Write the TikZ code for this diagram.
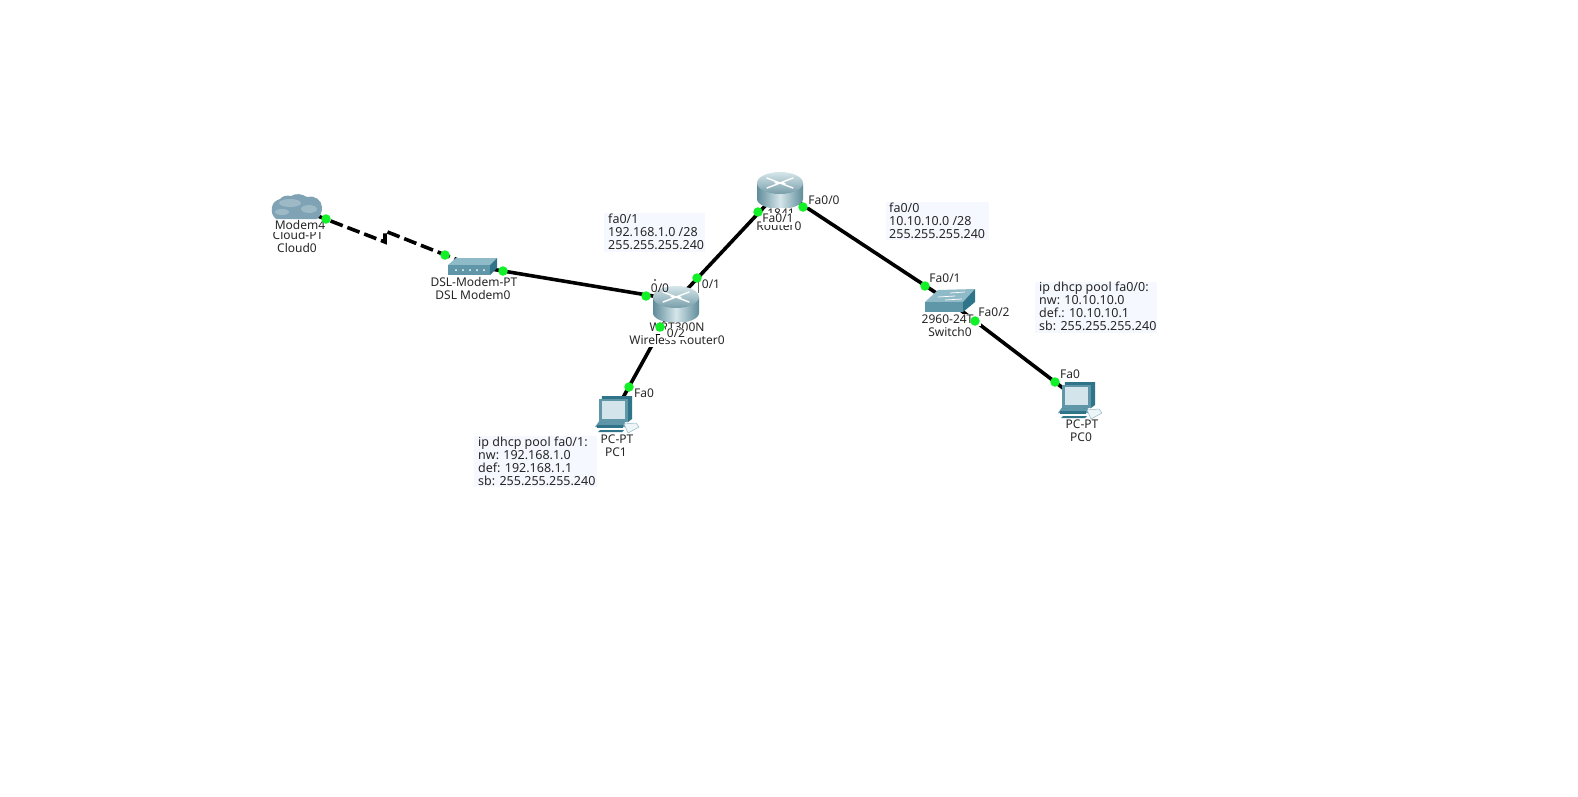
\documentclass[tikz,border=0pt]{standalone}
\usepackage{fontspec}
\setmainfont{Noto Sans}
\definecolor{dotg}{HTML}{12F028}
\definecolor{notebg}{HTML}{F6F8FF}
\definecolor{rtD}{HTML}{5F8C9A}
\definecolor{rtL}{HTML}{D5E6EA}
\definecolor{rtT}{HTML}{A6C2CB}
\definecolor{tealD}{HTML}{2F7488}
\definecolor{tealM}{HTML}{5F97A9}
\definecolor{tealL}{HTML}{8FBAC7}
\definecolor{scr}{HTML}{D4E4EB}
\definecolor{cloudA}{HTML}{9DB9C6}
\definecolor{cloudB}{HTML}{7FA3B5}
\tikzset{
 x=1pt,y=-1pt,
 cable/.style={line width=3.6pt,black},
 dotn/.style={circle,fill=dotg,draw=none,minimum size=9.5pt,inner sep=0pt},
 lbl/.style={font=\fontsize{12}{12}\selectfont,fill=white,inner xsep=1pt,inner ysep=0.5pt,text height=8.5pt,text depth=2pt,text=black!85},
 note/.style={font=\fontsize{12.5}{13}\selectfont,fill=notebg,align=left,anchor=north west,inner sep=0pt,text=black!85},
 routericon/.pic={
  \shade[left color=rtD,right color=rtD,middle color=rtL] (-23,-9) -- (-23,7) arc[start angle=180,end angle=0,x radius=23,y radius=10] -- (23,-9) -- cycle;
  \shade[top color=rtL,bottom color=rtD!85] (0,-9) ellipse[x radius=23,y radius=11];
  \draw[white,line width=1.4pt,line cap=round] (-13,-4) -- (13,-14) (-13,-14) -- (13,-4) (-5,-9.5) -- (5,-8.5);
 },
 pcicon/.pic={
  \fill[tealM] (-19,16) -- (-14,9) -- (10,9) -- (12,16) -- cycle;
  \fill[white!85!tealL,draw=tealL,line width=.5pt] (10,13) -- (22,12) -- (25,16) -- (14,22) -- cycle;
  \fill[tealD] (-14,19) -- (10,19) -- (8,21) -- (-16,21) -- cycle;
  \fill[tealD] (-12,-15) -- (18,-15) -- (18,8) -- (14,11) -- (-14,11) -- cycle;
  \fill[tealM] (-15,-12) rectangle (14,11);
  \fill[scr] (-12,-10) rectangle (11,8);
  \fill[tealM] (-8,11) rectangle (6,15);
  \fill[tealD] (-17,14) rectangle (9,17);
 },
}
\begin{document}
\begin{tikzpicture}
\useasboundingbox (0,0) rectangle (1578,796);
\fill[white] (0,0) rectangle (1578,796);

% anchor points of the devices
\coordinate (cloud) at (297,208);
\coordinate (modem) at (473,266);
\coordinate (wr) at (677,300);
\coordinate (rt) at (780,190);
\coordinate (sw) at (950,302);
\coordinate (pcA) at (615,412);
\coordinate (pcB) at (1080,401);
\coordinate (ltA) at (385,242);
\coordinate (ltB) at (385,231);

% notes
\fill[notebg] (604,213) rectangle (705,252);
\node[note] (n1) at (608,214) {fa0/1\\192.168.1.0 /28\\255.255.255.240};
\fill[notebg] (886,202) rectangle (989,240);
\node[note] (n2) at (889,203) {fa0/0\\10.10.10.0 /28\\255.255.255.240};
\fill[notebg] (1035,282) rectangle (1157,333);
\node[note] (n3) at (1039,282) {ip dhcp pool fa0/0:\\nw: 10.10.10.0\\def.: 10.10.10.1\\sb: 255.255.255.240};
\fill[notebg] (474,436) rectangle (597,487);
\node[note] (n4) at (478,437) {ip dhcp pool fa0/1:\\nw: 192.168.1.0\\def: 192.168.1.1\\sb: 255.255.255.240};

% connectors
\draw[cable,dash pattern=on 13pt off 5pt] (cloud) -- (ltA) -- (ltB) -- (modem);
\draw[cable] (modem) -- (wr);
\draw[cable] (wr) -- (rt);
\draw[cable] (rt) -- (sw);
\draw[cable] (wr) -- (pcA);
\draw[cable] (sw) -- (pcB);

% cloud
\fill[cloudB] (272,207) to[out=80,in=200] (280,199) to[out=50,in=170] (291,196)
 to[out=30,in=150] (307,197) to[out=20,in=90] (322,207) to[out=270,in=40] (317,219) -- (276,219) to[out=140,in=260] cycle;
\fill[cloudA] (290,203) ellipse[x radius=11,y radius=4];
\fill[cloudA] (309,209) ellipse[x radius=8,y radius=4];
\fill[cloudA] (282,212) ellipse[x radius=7,y radius=3];

% DSL modem
\fill[tealL] (448,265) -- (456,258) -- (497,258) -- (490,265) -- cycle;
\fill[tealD] (490,265) -- (497,258) -- (497,268) -- (490,275) -- cycle;
\fill[tealM] (448,265) rectangle (490,275);
\foreach \i in {0,1,2,3,4} \fill[white] (456+\i*7,270) circle[radius=1];

% wireless router
\draw[black!60,line width=.7pt] (698,282) -- (698,293);
\fill[black!70] (655,280) circle[radius=1.2];
\pic at (676,306) {routericon};
% router
\pic at (780,192) {routericon};

% switch
\fill[tealL] (925,302) -- (938,290) -- (975,289) -- (963,302) -- cycle;
\draw[white,line width=.7pt] (938,297) -- (955,296) (945,300) -- (962,299) (950,293) -- (965,292);
\fill[tealD] (963,302) -- (975,289) -- (975,302) -- (963,312) -- cycle;
\fill[tealM] (925,302) rectangle (963,312);

% PCs
\pic at (614,411) {pcicon};
\pic at (1077,397) {pcicon};

% labels, in stacking order
\node[lbl] (l1) at (298,236) {Cloud-PT};
\node[lbl] (l2) at (297,249) {Cloud0};
\node[lbl] (l3) at (300,226) {Modem4};
\node[lbl] (l4) at (474,283) {DSL-Modem-PT};
\node[lbl] (l5) at (473,296) {DSL Modem0};
\node[lbl] (l6) at (677,328) {WRT300N};
\node[lbl] (l7) at (677,341) {Wireless Router0};
\node[lbl] (l8) at (781,214) {1841};
\node[lbl] (l9) at (779,227) {Router0};
\node[lbl] (l10) at (778,219) {Fa0/1};
\node[lbl] (l11) at (951,320) {2960-24TT};
\node[lbl] (l12) at (950,333) {Switch0};
\node[lbl] (l13) at (617,440) {PC-PT};
\node[lbl] (l14) at (616,453) {PC1};
\node[lbl] (l15) at (1082,425) {PC-PT};
\node[lbl] (l16) at (1081,438) {PC0};
\node[lbl,fill=none] (l17) at (660,289) {0/0};
\node[lbl,fill=none] (l18) at (711,285) {0/1};
\node[lbl] (l19) at (676,334) {0/2};
\node[lbl] (l20) at (644,394) {Fa0};
\node[lbl] (l21) at (824,201) {Fa0/0};
\node[lbl,fill=none] (l22) at (945,279) {Fa0/1};
\node[lbl,inner xsep=4pt] (l23) at (994,313) {Fa0/2};
\node[lbl,fill=none] (l24) at (1070,375) {Fa0};

% link lights
\node[dotn] (d1) at (326,219) {};
\node[dotn] (d2) at (445,255) {};
\node[dotn] (d3) at (503,271) {};
\node[dotn] (d4) at (646,296) {};
\node[dotn] (d5) at (697,278) {};
\node[dotn] (d6) at (758,212) {};
\node[dotn] (d7) at (803,207) {};
\node[dotn] (d8) at (925,286) {};
\node[dotn] (d9) at (975,321) {};
\node[dotn] (d10) at (1055,382) {};
\node[dotn] (d11) at (660,327) {};
\node[dotn] (d12) at (629,387) {};
\end{tikzpicture}
\end{document}
